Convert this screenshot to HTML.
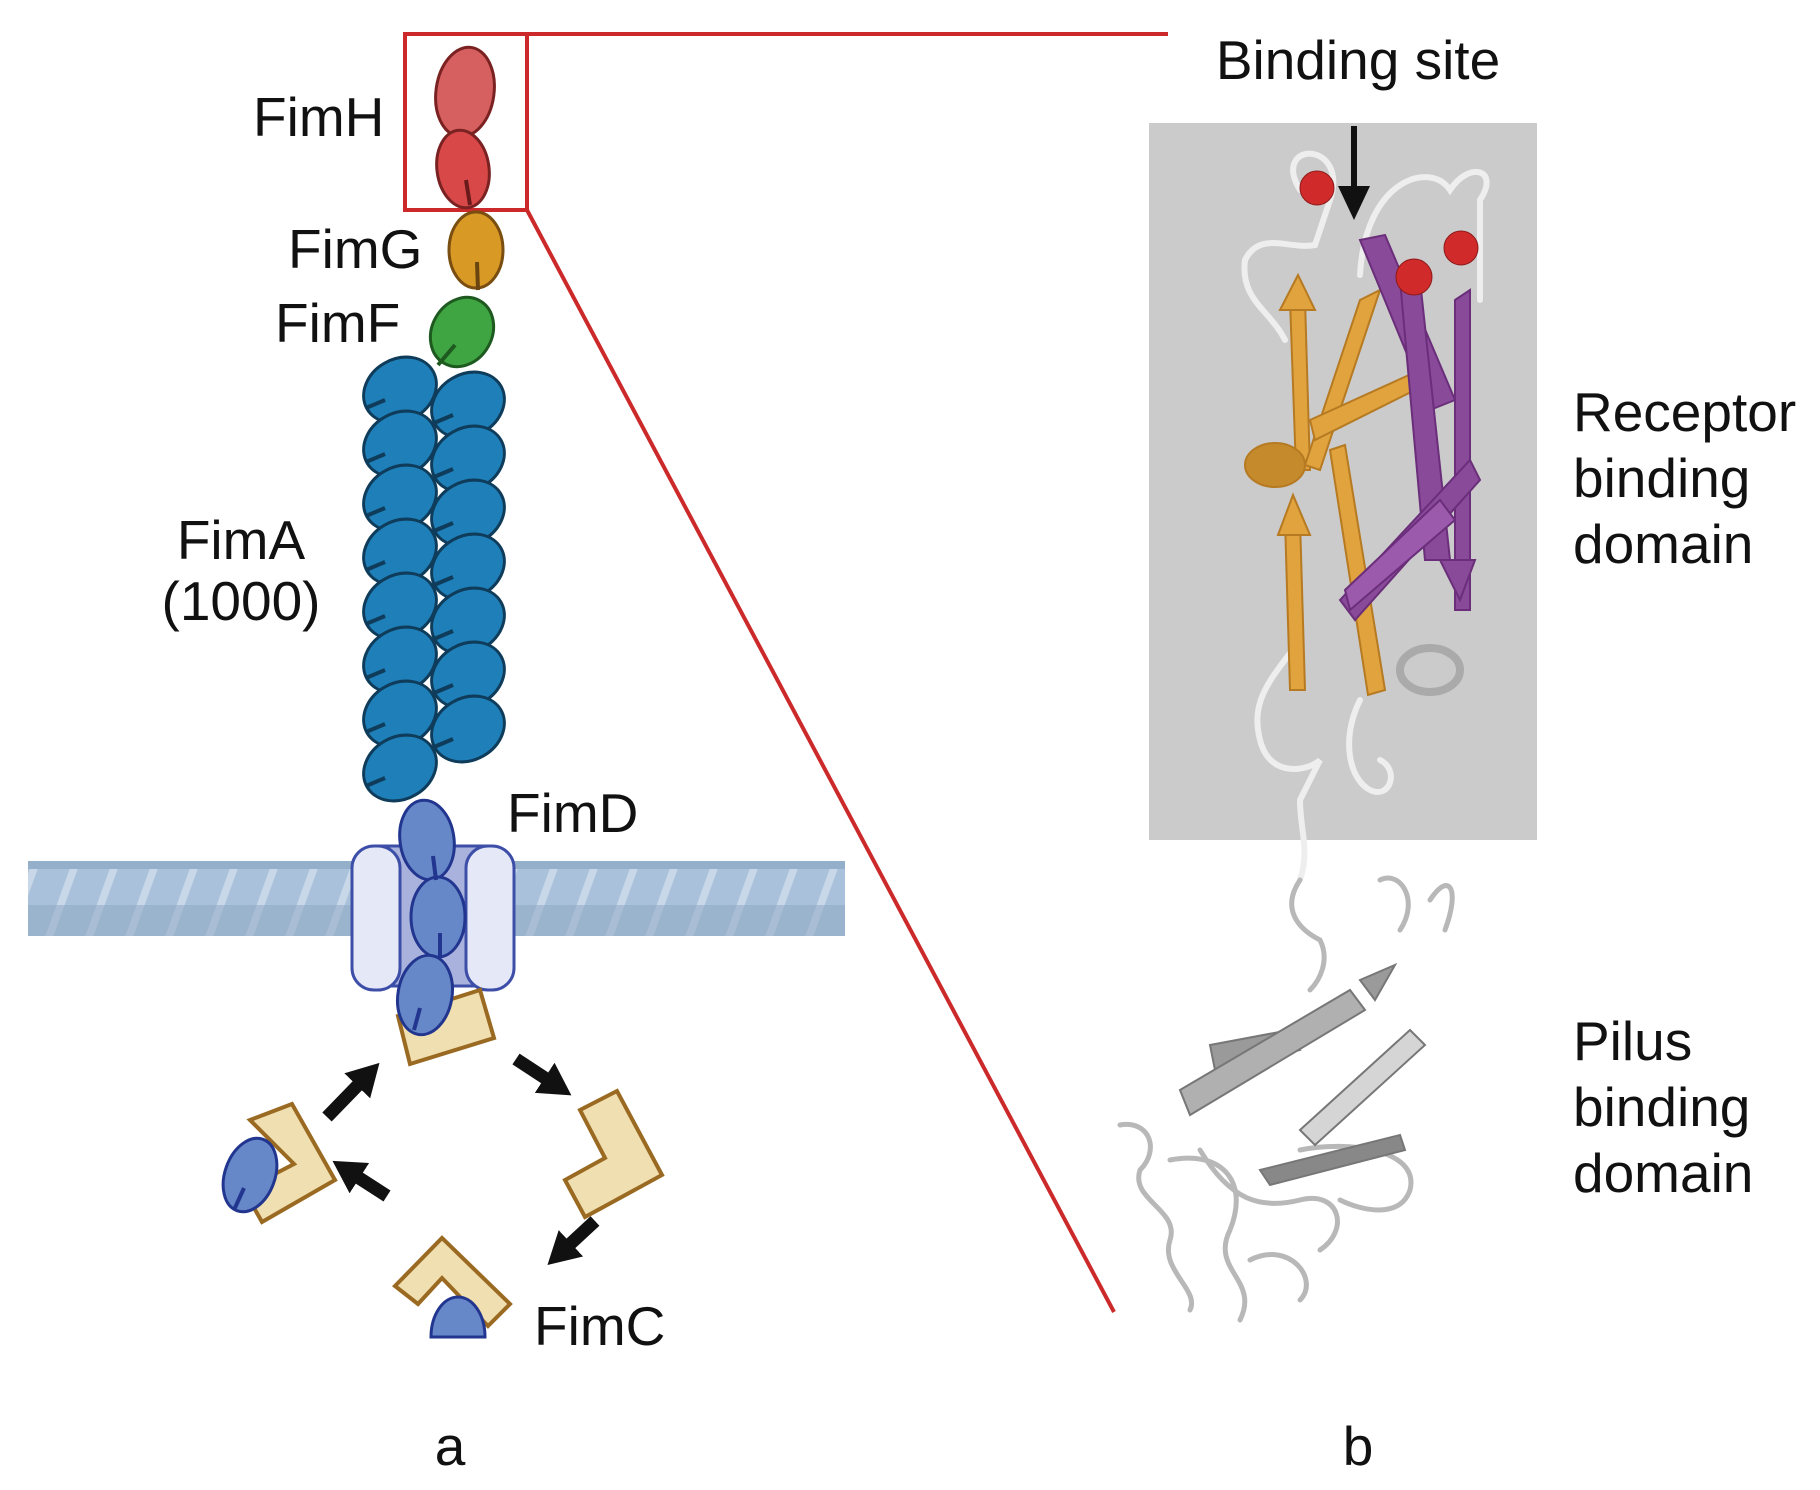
<!DOCTYPE html>
<html><head><meta charset="utf-8"><style>
html,body{margin:0;padding:0;background:#fff}
svg{display:block}
text{font-family:"Liberation Sans",sans-serif;fill:#111}
</style></head><body>
<svg width="1820" height="1490" viewBox="0 0 1820 1490" xmlns="http://www.w3.org/2000/svg">
<defs>
<pattern id="mem" width="40" height="75" patternUnits="userSpaceOnUse" patternTransform="skewX(-20)">
<rect width="40" height="75" fill="#a9c1da"/>
<rect x="26" width="8" height="75" fill="#c8d8e8"/>
</pattern>
<marker id="ah" markerUnits="userSpaceOnUse" markerWidth="34" markerHeight="36" refX="4" refY="18" orient="auto"><path d="M0,0 L32,18 L0,36 Z" fill="#111"/></marker>
</defs>

<rect x="28" y="861" width="817" height="75" fill="url(#mem)"/>
<rect x="28" y="861" width="817" height="8" fill="#93afc9"/>
<rect x="28" y="905" width="817" height="31" fill="#8fa9c2" opacity="0.55"/>

<rect x="405" y="34" width="122" height="176" fill="none" stroke="#cc2a2a" stroke-width="4"/>
<line x1="527" y1="34" x2="1168" y2="34" stroke="#cc2a2a" stroke-width="4"/>
<line x1="527" y1="210" x2="1114" y2="1312" stroke="#cc2a2a" stroke-width="4"/>

<ellipse cx="465" cy="92" rx="29" ry="45" transform="rotate(8 465 92)" fill="#d65f5f" stroke="#7a2222" stroke-width="3"/>
<ellipse cx="463" cy="169" rx="26" ry="39" transform="rotate(-8 463 169)" fill="#d84848" stroke="#7a2222" stroke-width="3"/>
<line x1="466" y1="180" x2="470" y2="205" stroke="#6a1a1a" stroke-width="4"/>
<ellipse cx="476" cy="250" rx="27" ry="38" fill="#d99a25" stroke="#7a4d10" stroke-width="3"/>
<line x1="477" y1="262" x2="478" y2="290" stroke="#6b4510" stroke-width="4"/>
<ellipse cx="462" cy="332" rx="30" ry="36" transform="rotate(30 462 332)" fill="#3fa442" stroke="#1e5a20" stroke-width="3"/>
<line x1="455" y1="345" x2="438" y2="365" stroke="#1e5a20" stroke-width="4"/>

<g fill="#1f7fb8" stroke="#0e3c5a" stroke-width="3">
<ellipse cx="400" cy="390" rx="38" ry="31" transform="rotate(-30 400 390)"/>
<ellipse cx="400" cy="444" rx="38" ry="31" transform="rotate(-30 400 444)"/>
<ellipse cx="400" cy="498" rx="38" ry="31" transform="rotate(-30 400 498)"/>
<ellipse cx="400" cy="552" rx="38" ry="31" transform="rotate(-30 400 552)"/>
<ellipse cx="400" cy="606" rx="38" ry="31" transform="rotate(-30 400 606)"/>
<ellipse cx="400" cy="660" rx="38" ry="31" transform="rotate(-30 400 660)"/>
<ellipse cx="400" cy="714" rx="38" ry="31" transform="rotate(-30 400 714)"/>
<ellipse cx="400" cy="768" rx="38" ry="31" transform="rotate(-30 400 768)"/>
<ellipse cx="468" cy="405" rx="38" ry="31" transform="rotate(-30 468 405)"/>
<ellipse cx="468" cy="459" rx="38" ry="31" transform="rotate(-30 468 459)"/>
<ellipse cx="468" cy="513" rx="38" ry="31" transform="rotate(-30 468 513)"/>
<ellipse cx="468" cy="567" rx="38" ry="31" transform="rotate(-30 468 567)"/>
<ellipse cx="468" cy="621" rx="38" ry="31" transform="rotate(-30 468 621)"/>
<ellipse cx="468" cy="675" rx="38" ry="31" transform="rotate(-30 468 675)"/>
<ellipse cx="468" cy="729" rx="38" ry="31" transform="rotate(-30 468 729)"/>
</g>
<g stroke="#0e3c5a" stroke-width="4">
<line x1="385" y1="400" x2="366" y2="408"/><line x1="385" y1="454" x2="366" y2="462"/><line x1="385" y1="508" x2="366" y2="516"/><line x1="385" y1="562" x2="366" y2="570"/><line x1="385" y1="616" x2="366" y2="624"/><line x1="385" y1="670" x2="366" y2="678"/><line x1="385" y1="724" x2="366" y2="732"/><line x1="385" y1="778" x2="366" y2="786"/>
<line x1="453" y1="415" x2="434" y2="423"/><line x1="453" y1="469" x2="434" y2="477"/><line x1="453" y1="523" x2="434" y2="531"/><line x1="453" y1="577" x2="434" y2="585"/><line x1="453" y1="631" x2="434" y2="639"/><line x1="453" y1="685" x2="434" y2="693"/><line x1="453" y1="739" x2="434" y2="747"/>
</g>

<rect x="377" y="846" width="112" height="140" fill="#a9b2dc" stroke="#3d4ea8" stroke-width="3"/>
<rect x="352" y="846" width="48" height="144" rx="22" fill="#e5e9f7" stroke="#3d4ea8" stroke-width="3"/>
<rect x="466" y="846" width="48" height="144" rx="22" fill="#e5e9f7" stroke="#3d4ea8" stroke-width="3"/>

<g fill="#f0dfb0" stroke="#9a6a22" stroke-width="4" stroke-linejoin="miter">
<path d="M398,1016 L480,990 L494,1038 L410,1064 Z"/>
<path d="M580,1110 L617,1091 L662,1175 L585,1217 L565,1180 L605,1158 Z"/>
<path d="M250,1120 L292,1104 L335,1180 L262,1222 L244,1190 L294,1164 Z"/>
<path d="M395,1286 L442,1238 L510,1304 L488,1326 L442,1278 L418,1304 Z"/>
</g>
<g fill="#6688c8" stroke="#22368f" stroke-width="3">
<ellipse cx="427" cy="840" rx="27" ry="40" transform="rotate(-8 427 840)"/>
<ellipse cx="438" cy="917" rx="27" ry="40"/>
<ellipse cx="425" cy="995" rx="27" ry="40" transform="rotate(10 425 995)"/>
<ellipse cx="250" cy="1175" rx="25" ry="38" transform="rotate(20 250 1175)"/>
<path d="M431,1337 A27,40 0 0 1 485,1337 Z"/>
</g>
<g stroke="#22368f" stroke-width="4">
<line x1="433" y1="856" x2="436" y2="880"/><line x1="440" y1="933" x2="440" y2="957"/><line x1="420" y1="1008" x2="414" y2="1030"/><line x1="244" y1="1188" x2="234" y2="1210"/>
</g>
<g stroke="#111" stroke-width="13" marker-end="url(#ah)">
<line x1="327" y1="1117" x2="360" y2="1083"/>
<line x1="516" y1="1059" x2="548" y2="1080"/>
<line x1="595" y1="1221" x2="568" y2="1246"/>
<line x1="387" y1="1196" x2="356" y2="1176"/>
</g>

<g font-size="55">
<text x="253" y="136">FimH</text>
<text x="288" y="268">FimG</text>
<text x="275" y="342">FimF</text>
<text x="241" y="559" text-anchor="middle">FimA</text>
<text x="241" y="620" text-anchor="middle">(1000)</text>
<text x="507" y="832">FimD</text>
<text x="534" y="1345">FimC</text>
<text x="450" y="1465" text-anchor="middle">a</text>
<text x="1358" y="1465" text-anchor="middle">b</text>
</g>

<rect x="1149" y="123" width="388" height="717" fill="#cbcbcb"/>
<g font-size="55">
<text x="1358" y="79" text-anchor="middle">Binding site</text>
<text x="1573" y="431">Receptor</text>
<text x="1573" y="497">binding</text>
<text x="1573" y="563">domain</text>
<text x="1573" y="1060">Pilus</text>
<text x="1573" y="1126">binding</text>
<text x="1573" y="1192">domain</text>
</g>
<line x1="1354" y1="126" x2="1354" y2="190" stroke="#111" stroke-width="6"/>
<path d="M1338,186 L1370,186 L1354,220 Z" fill="#111"/>

<g fill="none" stroke="#eee" stroke-width="6" stroke-linecap="round">
<path d="M1300,190 C1270,140 1350,140 1330,200 L1315,245 C1290,250 1260,230 1245,260 C1240,300 1270,310 1285,340"/>
<path d="M1360,275 C1365,180 1430,160 1450,190 C1470,160 1500,170 1480,200 L1480,300"/>
<path d="M1300,640 C1270,680 1250,700 1260,740 C1270,780 1310,770 1320,760 L1300,800 C1300,830 1310,850 1300,880"/>
<path d="M1360,700 C1340,740 1350,780 1370,790 C1390,800 1400,770 1380,760"/>
</g>
<g fill="#e0a33e" stroke="#b67a22" stroke-width="2">
<path d="M1290,300 L1305,300 L1310,470 L1296,470 Z"/>
<path d="M1280,310 L1298,275 L1315,310 Z"/>
<path d="M1360,300 L1380,290 L1320,470 L1305,465 Z"/>
<path d="M1330,450 L1345,445 L1385,690 L1368,695 Z"/>
<path d="M1285,520 L1300,520 L1305,690 L1290,690 Z"/>
<path d="M1278,535 L1293,495 L1310,535 Z"/>
<path d="M1310,420 L1420,370 L1425,385 L1315,440 Z"/>
<ellipse cx="1275" cy="465" rx="30" ry="22" fill="#c48a2c"/>
</g>
<g fill="#8a4a9a" stroke="#6a2e7a" stroke-width="2">
<path d="M1360,240 L1385,235 L1455,400 L1430,410 Z"/>
<path d="M1400,280 L1420,280 L1450,560 L1425,560 Z"/>
<path d="M1455,300 L1470,290 L1470,610 L1455,610 Z"/>
<path d="M1340,600 L1470,460 L1480,480 L1355,620 Z"/>
<path d="M1345,590 L1440,500 L1455,520 L1350,610 Z" fill="#9b5aac"/>
<path d="M1440,560 L1475,560 L1460,600 Z"/>
</g>
<ellipse cx="1430" cy="670" rx="30" ry="22" fill="none" stroke="#aaa" stroke-width="8"/>
<g fill="#d12a2a" stroke="#8e1a1a" stroke-width="1">
<circle cx="1317" cy="188" r="17"/><circle cx="1414" cy="277" r="18"/><circle cx="1461" cy="248" r="17"/>
</g>
<g fill="none" stroke="#b8b8b8" stroke-width="5" stroke-linecap="round">
<path d="M1300,880 C1280,910 1300,930 1320,940 C1330,960 1320,980 1310,990"/>
<path d="M1380,880 C1400,870 1420,900 1400,930 M1430,900 C1450,870 1460,890 1445,930"/>
<path d="M1120,1125 C1150,1120 1160,1150 1140,1170 C1130,1200 1180,1210 1170,1240 C1160,1270 1200,1290 1190,1310"/>
<path d="M1170,1160 C1220,1150 1250,1180 1230,1230 C1210,1270 1260,1280 1240,1320"/>
<path d="M1200,1150 C1230,1200 1260,1210 1300,1200 C1340,1190 1350,1230 1320,1250"/>
<path d="M1250,1260 C1290,1240 1320,1280 1300,1300 M1300,1150 C1350,1140 1420,1150 1410,1190 C1400,1220 1360,1210 1340,1200"/>
</g>
<g fill="#9a9a9a" stroke="#777" stroke-width="2">
<path d="M1210,1045 L1290,1030 L1300,1050 L1215,1070 Z"/>
<path d="M1180,1090 L1350,990 L1365,1010 L1190,1115 Z" fill="#b0b0b0"/>
<path d="M1360,980 L1395,965 L1375,1000 Z"/>
<path d="M1300,1130 L1410,1030 L1425,1045 L1315,1145 Z" fill="#d5d5d5"/>
<path d="M1260,1170 L1400,1135 L1405,1150 L1270,1185 Z" fill="#888"/>
</g>
</svg>
</body></html>
